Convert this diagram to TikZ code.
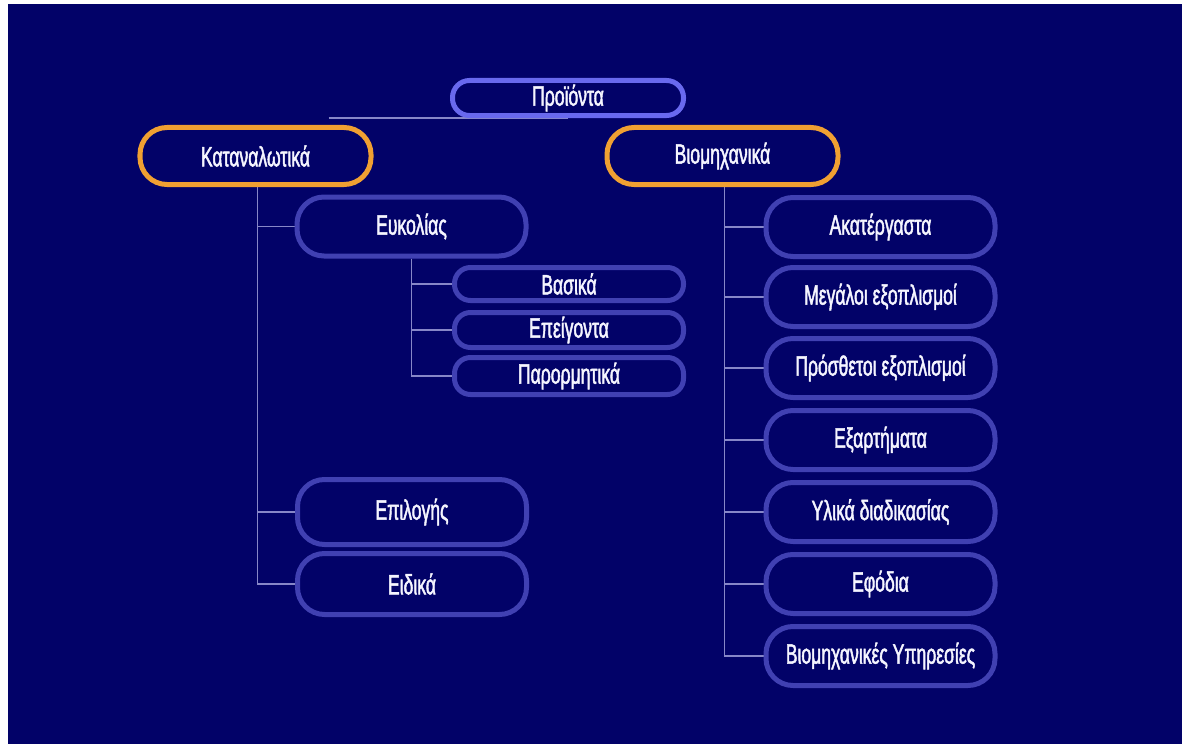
\documentclass[tikz,border=0pt]{standalone}
\usepackage{fontspec}
\newfontfamily\gr[FakeStretch=0.63,FakeBold=1.6]{Liberation Sans}
\usetikzlibrary{backgrounds}
\definecolor{bgc}{RGB}{2,2,104}
\definecolor{boxc}{RGB}{64,64,178}
\definecolor{topc}{RGB}{105,105,238}
\definecolor{orc}{RGB}{240,160,50}
\definecolor{connc}{RGB}{135,135,200}
\definecolor{txtc}{RGB}{245,245,255}
\tikzset{
  gbox/.style={draw=boxc, line width=5bp, fill=bgc, rounded corners=27bp, text=txtc,
    font=\gr\fontsize{28}{28}\selectfont, inner sep=0bp, minimum width=229bp, minimum height=59bp},
  topbox/.style={gbox, draw=topc, rounded corners=17bp, minimum height=35bp, minimum width=231bp},
  orbox/.style={gbox, draw=orc, minimum width=231bp, minimum height=57bp},
  smallbox/.style={gbox, rounded corners=16bp, minimum height=35bp},
  conn/.style={draw=connc, line width=1.5bp}
}
\begin{document}
\begin{tikzpicture}[x=1bp,y=-1bp]
\useasboundingbox (0,0) rectangle (1182,744);
% nodes
\node[topbox] (prod) at (568,98) {Προϊόντα};
\node[orbox] (kat) at (255.5,156) {Καταναλωτικά};
\node[orbox] (viom) at (722.5,156) {Βιομηχανικά};
\node[gbox] (eyk) at (411.5,226.5) {Ευκολίας};
\node[smallbox, minimum height=33bp] (vas) at (569,284) {Βασικά};
\node[smallbox] (epe) at (569,330) {Επείγοντα};
\node[smallbox, minimum height=37bp] (par) at (569,376) {Παρορμητικά};
\node[gbox, minimum height=65bp] (epil) at (412,512) {Επιλογής};
\node[gbox, minimum height=61bp] (eid) at (412,584) {Ειδικά};
\node[gbox] (ak) at (880.5,227) {Ακατέργαστα};
\node[gbox] (meg) at (880.5,297) {Μεγάλοι εξοπλισμοί};
\node[gbox] (pros) at (880.5,368) {Πρόσθετοι εξοπλισμοί};
\node[gbox] (exa) at (880.5,440) {Εξαρτήματα};
\node[gbox] (yl) at (880.5,512) {Υλικά διαδικασίας};
\node[gbox] (ef) at (880.5,584) {Εφόδια};
\node[gbox] (ypi) at (880.5,656) {Βιομηχανικές Υπηρεσίες};
\coordinate (kc) at ([xshift=-45bp]kat.north east);
\begin{scope}[on background layer]
\fill[white] (-10,-10) rectangle (1200,760);
\fill[bgc] (8,4) rectangle (1200,760);
\draw[conn] (kc |- prod.south) -- (prod.south);
\draw[conn] ([xshift=2bp]kat.south) |- (eyk.west);
\draw[conn] ([xshift=2bp]kat.south) |- (epil.west);
\draw[conn] ([xshift=2bp]kat.south) |- (eid.west);
\draw[conn] (eyk.south) |- (vas.west);
\draw[conn] (eyk.south) |- (epe.west);
\draw[conn] (eyk.south) |- (par.west);
\foreach \n in {ak,meg,pros,exa,yl,ef,ypi}{
  \draw[conn] ([xshift=2bp]viom.south) |- (\n.west);
}
\end{scope}
\end{tikzpicture}
\end{document}
